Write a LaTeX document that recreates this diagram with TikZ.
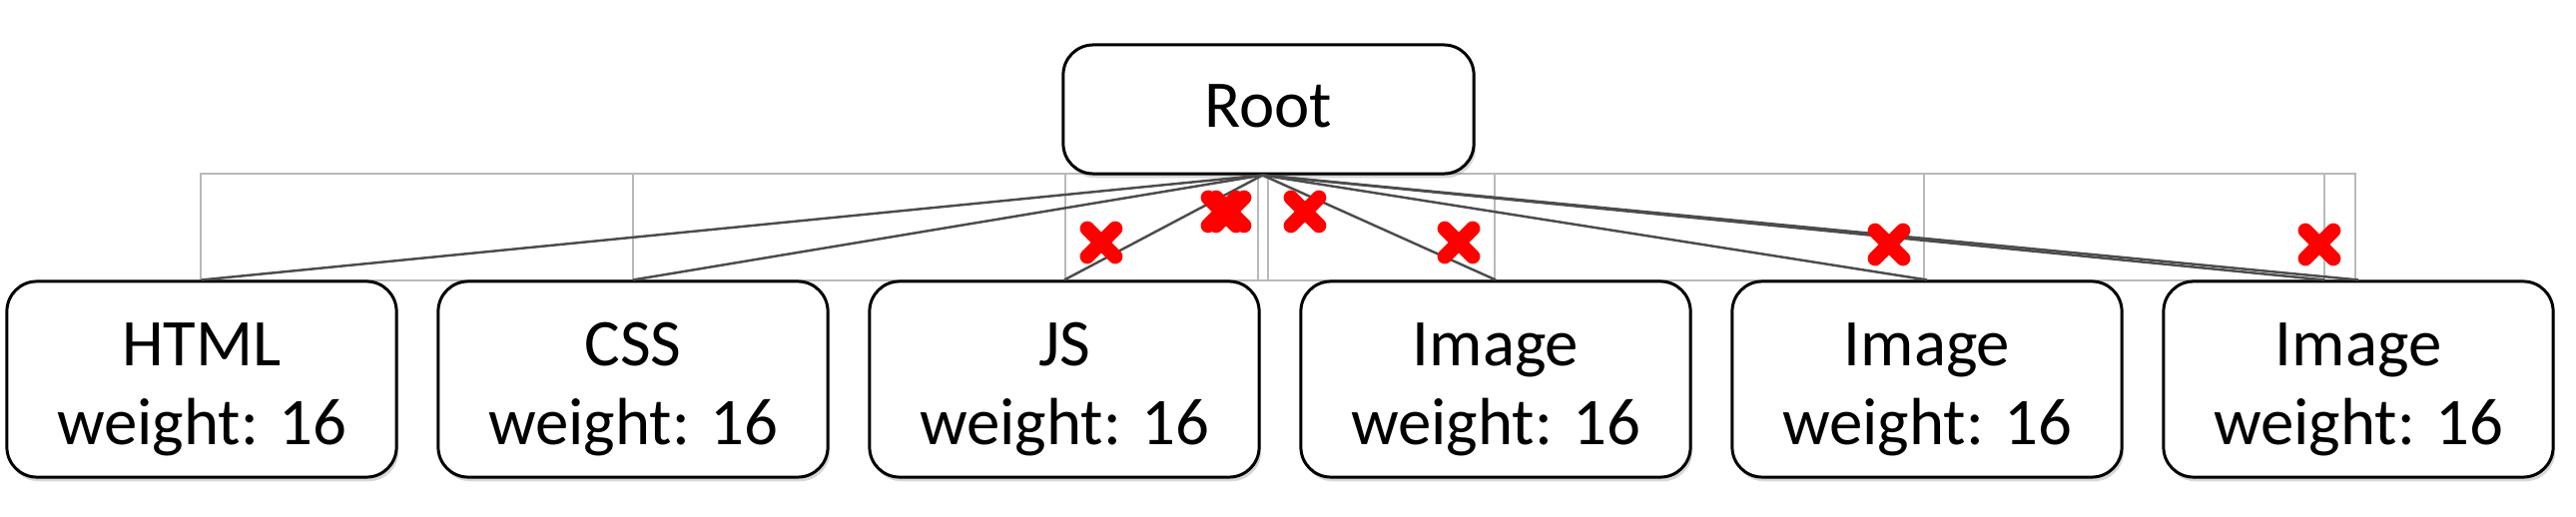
\documentclass[tikz,border=0pt]{standalone}
\usepackage{fontspec}
\setmainfont{Carlito}
\usetikzlibrary{shadows}
\newcommand\boxlabel[2]{\rule{0pt}{20.8pt}#1\\#2\rule[-6pt]{0pt}{6pt}}
\tikzset{
  box/.style={draw=black, line width=0.85pt, rounded corners=0.3cm, fill=white,
    inner sep=0pt, align=center, font=\fontsize{19pt}{22.2pt}\selectfont,
    drop shadow={shadow xshift=0.6pt, shadow yshift=-1.2pt, opacity=0.3}},
  childbox/.style={box, minimum width=3.9cm, minimum height=1.96cm},
  gridline/.style={draw=gray!55, line width=0.55pt},
  link/.style={draw=black!70, line width=0.7pt},
  redx/.pic={\draw[red, line width=4.2pt, line cap=round]
     (-14,-14) -- (14,14) (-14,14) -- (14,-14);}
}
\begin{document}
\begin{tikzpicture}[x=0.01cm, y=-0.01cm]
\useasboundingbox[fill=white] (0,0) rectangle (2580,518);
% grey layout grid
\draw[gridline] (201,174) rectangle (2359,281);
\foreach \x in {634,1067,1260,1270,1497,1927,2328}
  \draw[gridline] (\x,174) -- (\x,281);
% nodes
\node[box, minimum width=4.11cm, minimum height=1.29cm] (root) at (1270.5,109.5)
  {\rule{0pt}{16pt}Root\rule[-6pt]{0pt}{6pt}};
\node[childbox] (html) at (202,380)  {\boxlabel{HTML}{weight: 16}};
\node[childbox] (css)  at (634,380)  {\boxlabel{CSS}{weight: 16}};
\node[childbox] (js)   at (1066,380) {\boxlabel{JS}{weight: 16}};
\node[childbox] (img1) at (1498,380) {\boxlabel{Image}{weight: 16}};
\node[childbox] (img2) at (1930,380) {\boxlabel{Image}{weight: 16}};
\node[childbox] (img3) at (2362,380) {\boxlabel{Image}{weight: 16}};
% connectors
\coordinate (hub) at ([xshift=-0.06cm]root.south);
\draw[link] (hub) -- (html.north);
\draw[link] (hub) -- (css.north);
\draw[link] (hub) -- (js.north);
\draw[link] (hub) -- (img1.north);
\draw[link] (hub) -- (img2.north);
\draw[link] (hub) -- (img3.north);
\draw[link] (hub) -- ([xshift=-0.34cm]img3.north);
% red crosses
\pic at (1103,243) {redx};
\pic at (1224,212) {redx};
\pic at (1232,212) {redx};
\pic at (1307,212) {redx};
\pic at (1461,243) {redx};
\pic at (1892,245) {redx};
\pic at (2323,245) {redx};
\end{tikzpicture}
\end{document}
